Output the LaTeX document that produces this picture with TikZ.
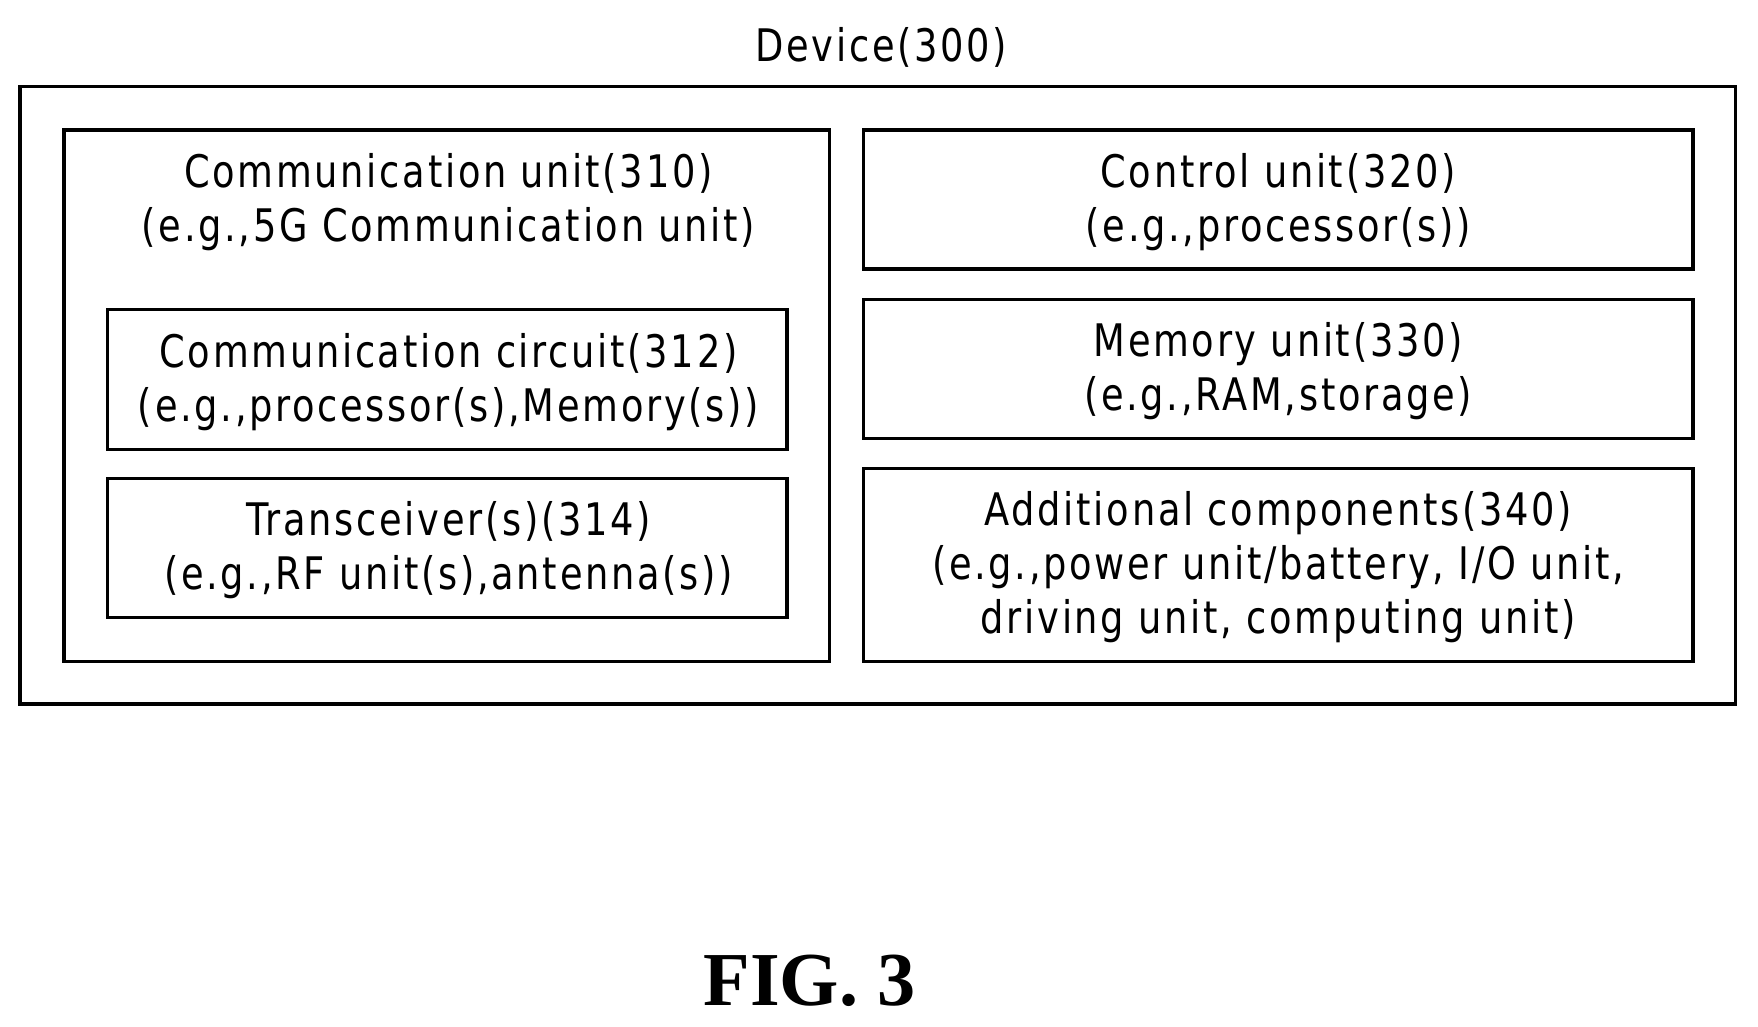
\documentclass[tikz,border=0pt]{standalone}
\usepackage{fontspec}
\setmainfont{Liberation Serif}
\newfontfamily\gul[FakeStretch=0.82,LetterSpace=6]{DejaVu Sans}
\begin{document}
\begin{tikzpicture}[x=0.5pt,y=-0.5pt,
  box/.style={draw,line width=1.5pt},
  lbl/.style={font=\gul\fontsize{20}{24}\selectfont,align=center,inner sep=0}]
\useasboundingbox (0,0) rectangle (1568,916);
\draw[box] (18,77) rectangle (1548,628);
\draw[box] (57,116) rectangle (740,590);
\draw[box] (96,276) rectangle (702,401);
\draw[box] (96,427) rectangle (702,551);
\draw[box] (770,116) rectangle (1510,240);
\draw[box] (770,267) rectangle (1510,391);
\draw[box] (770,418) rectangle (1510,590);
\node[lbl] (dev) at (786,42) {Device(300)};
\node[lbl] (cu) at (400,180) {Communication unit(310)\\(e.g.,5G Communication unit)};
\node[lbl] (cc) at (400,341) {Communication circuit(312)\\(e.g.,processor(s),Memory(s))};
\node[lbl] (tr) at (400,491) {Transceiver(s)(314)\\(e.g.,RF unit(s),antenna(s))};
\node[lbl] (ct) at (1140,180) {Control unit(320)\\(e.g.,processor(s))};
\node[lbl] (me) at (1140,331) {Memory unit(330)\\(e.g.,RAM,storage)};
\node[lbl] (ad) at (1140,506) {Additional components(340)\\(e.g.,power unit/battery, I/O unit,\\driving unit, computing unit)};
\node[font=\bfseries\fontsize{34}{40}\selectfont,inner sep=0] (fig) at (722,875) {FIG. 3};
\end{tikzpicture}
\end{document}
